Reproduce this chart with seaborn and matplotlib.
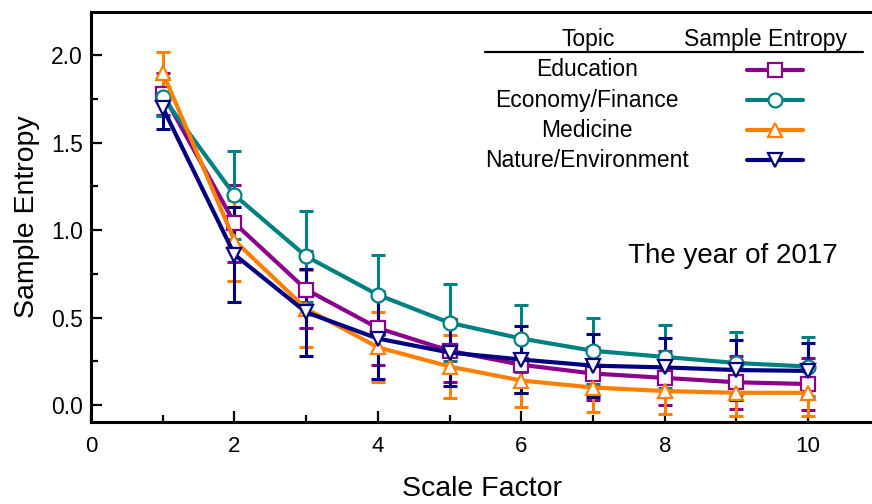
import numpy as np
import matplotlib
matplotlib.use("Agg")
import matplotlib.pyplot as plt
import seaborn as sns
import pandas as pd
from matplotlib.ticker import MultipleLocator

sns.set_theme(style="ticks")
plt.rcParams["font.family"] = ["Liberation Sans", "DejaVu Sans"]
plt.rcParams["text.color"] = "black"
plt.rcParams["axes.labelcolor"] = "black"
plt.rcParams["xtick.color"] = "black"
plt.rcParams["ytick.color"] = "black"
plt.rcParams["xtick.labelsize"] = 16
plt.rcParams["ytick.labelsize"] = 16.5

# datos
escala = [1, 2, 3, 4, 5, 6, 7, 8, 9, 10]
temas = ["Education", "Economy/Finance", "Medicine", "Nature/Environment"]
educacion = [1.78, 1.04, 0.66, 0.44, 0.31, 0.23, 0.18, 0.155, 0.13, 0.12]
economia = [1.76, 1.20, 0.85, 0.63, 0.47, 0.38, 0.31, 0.275, 0.24, 0.22]
medicina = [1.90, 0.94, 0.55, 0.33, 0.22, 0.14, 0.10, 0.08, 0.07, 0.07]
naturaleza = [1.70, 0.86, 0.53, 0.38, 0.30, 0.26, 0.225, 0.215, 0.20, 0.195]
err_educacion = [0.12, 0.22, 0.22, 0.21, 0.18, 0.16, 0.15, 0.155, 0.15, 0.15]
err_economia = [0.11, 0.25, 0.26, 0.23, 0.22, 0.19, 0.19, 0.18, 0.18, 0.17]
err_medicina = [0.12, 0.23, 0.22, 0.20, 0.18, 0.15, 0.14, 0.13, 0.13, 0.13]
err_naturaleza = [0.12, 0.27, 0.25, 0.23, 0.19, 0.19, 0.18, 0.17, 0.17, 0.16]

valores = [educacion, economia, medicina, naturaleza]
errores = [err_educacion, err_economia, err_medicina, err_naturaleza]
colores = ["#8B008B", "#008080", "#FF8000", "#000080"]
marcadores = ["s", "o", "^", "v"]

fig = plt.figure(figsize=(8.72, 5.04), dpi=100)
ax = fig.add_axes([0.1044, 0.1627, 0.8956, 0.8133])

for tema, y, e, c, m in zip(temas, valores, errores, colores, marcadores):
    df = pd.DataFrame({"escala": escala, "valor": y})
    ax.errorbar(escala, y, yerr=e, fmt="none", ecolor=c, elinewidth=2.2,
                capsize=5, capthick=2.2, zorder=2)
    sns.lineplot(x="escala", y="valor", data=df, ax=ax, color=c, lw=3,
                 marker=m, markersize=10, markerfacecolor="white",
                 markeredgecolor=c, markeredgewidth=1.6, zorder=3)

ax.set_xlim(0, 10.89)
ax.set_ylim(-0.097, 2.246)
ax.xaxis.set_major_locator(MultipleLocator(2))
ax.xaxis.set_minor_locator(MultipleLocator(1))
ax.yaxis.set_major_locator(MultipleLocator(0.5))
ax.yaxis.set_minor_locator(MultipleLocator(0.25))
ax.yaxis.set_major_formatter(plt.FormatStrFormatter("%.1f"))
ax.tick_params(which="both", direction="in", width=1.6, top=False, right=False)
ax.tick_params(which="major", length=8)
ax.tick_params(which="minor", length=5)
ax.tick_params(axis="x", pad=10, labelsize=16)
ax.tick_params(axis="y", pad=6, labelsize=16.5)
for s in ["left", "bottom", "top"]:
    ax.spines[s].set_linewidth(2.2)
    ax.spines[s].set_color("black")
ax.spines["right"].set_visible(False)

ax.set_xlabel("Scale Factor", fontsize=20.5, labelpad=14)
ax.set_ylabel("Sample Entropy", fontsize=20.5, labelpad=8)

# leyenda tipo tabla
ax.text(0.636, 0.932, "Topic", transform=ax.transAxes, ha="center", va="center", fontsize=16.5)
ax.text(0.864, 0.932, "Sample Entropy", transform=ax.transAxes, ha="center", va="center", fontsize=16.5)
ax.plot([0.504, 0.988], [0.902, 0.902], transform=ax.transAxes, color="black", lw=1.6, clip_on=False)
filas = [0.859, 0.785, 0.712, 0.639]
for tema, c, m, fy in zip(temas, colores, marcadores, filas):
    ax.text(0.635, fy, tema, transform=ax.transAxes, ha="center", va="center", fontsize=16.5)
    ax.plot([0.840, 0.876, 0.912], [fy, fy, fy], transform=ax.transAxes, color=c, lw=3,
            marker=m, markevery=[1], markersize=10, markerfacecolor="white",
            markeredgecolor=c, markeredgewidth=1.6, clip_on=False)

ax.text(0.822, 0.405, "The year of 2017", transform=ax.transAxes, ha="center", va="center", fontsize=20)

fig.savefig("out.png", dpi=100)
